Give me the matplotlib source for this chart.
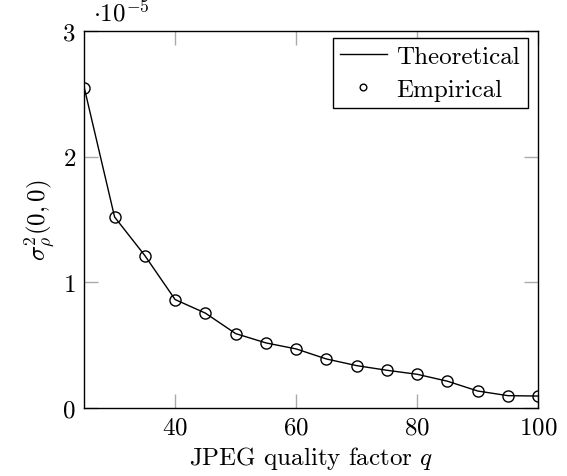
import matplotlib
matplotlib.use("Agg")
import matplotlib.pyplot as plt
from matplotlib.ticker import FuncFormatter

plt.rcParams['font.family'] = 'serif'
plt.rcParams['font.serif'] = ['cmr10']
plt.rcParams['mathtext.fontset'] = 'cm'
plt.rcParams['axes.unicode_minus'] = False
plt.rcParams['axes.formatter.use_mathtext'] = True

SCALE = 1e-5

# JPEG quality factors
quality = [25, 30, 35, 40, 45, 50, 55, 60, 65, 70, 75, 80, 85, 90, 95, 100]
# variance values in units of 1e-5
theoretical = [2.547, 1.52, 1.213, 0.863, 0.755, 0.592, 0.518, 0.47,
               0.39, 0.337, 0.30, 0.268, 0.213, 0.135, 0.098, 0.095]
empirical = [2.547, 1.52, 1.213, 0.863, 0.755, 0.592, 0.518, 0.47,
             0.39, 0.337, 0.30, 0.268, 0.213, 0.135, 0.098, 0.095]

FS = 18

fig = plt.figure(figsize=(5.67, 4.77), dpi=100)
ax = fig.add_axes([0.1487, 0.1426, 0.8006, 0.7903])

ax.plot(quality, [v * SCALE for v in theoretical], color='black', lw=1.0,
        label='Theoretical')
ax.plot(quality, [v * SCALE for v in empirical], ls='none', marker='o',
        ms=8, mfc='none', mec='black', mew=1.0, label='Empirical')

ax.set_xlim(25, 100)
ax.set_ylim(0, 3 * SCALE)
ax.set_xticks([40, 60, 80, 100])
ax.set_yticks([0, 1 * SCALE, 2 * SCALE, 3 * SCALE])
ax.yaxis.set_major_formatter(FuncFormatter(lambda v, p: '%d' % round(v / SCALE)))

ax.tick_params(direction='in', length=10, width=1.0, color='#aaaaaa',
               top=True, right=True, labelsize=FS, pad=6)
for s in ax.spines.values():
    s.set_color('black')
    s.set_linewidth(1.0)

ax.set_xlabel('JPEG quality factor $q$', fontsize=FS, labelpad=4)
ax.set_ylabel(r'$\sigma_\rho^2(0,0)$', fontsize=FS, labelpad=4)
ax.text(0.02, 1.015, r'$\cdot10^{-5}$', transform=ax.transAxes, fontsize=FS,
        va='bottom', ha='left')

leg = ax.legend(loc='upper right', bbox_to_anchor=(0.977, 0.981),
                fontsize=FS, fancybox=False, framealpha=1,
                edgecolor='black', borderaxespad=0, handlelength=1.85,
                handletextpad=0.4, borderpad=0.3, labelspacing=0.4,
                markerscale=0.6)
leg.get_frame().set_linewidth(1.0)

fig.savefig('out.png', dpi=100)
